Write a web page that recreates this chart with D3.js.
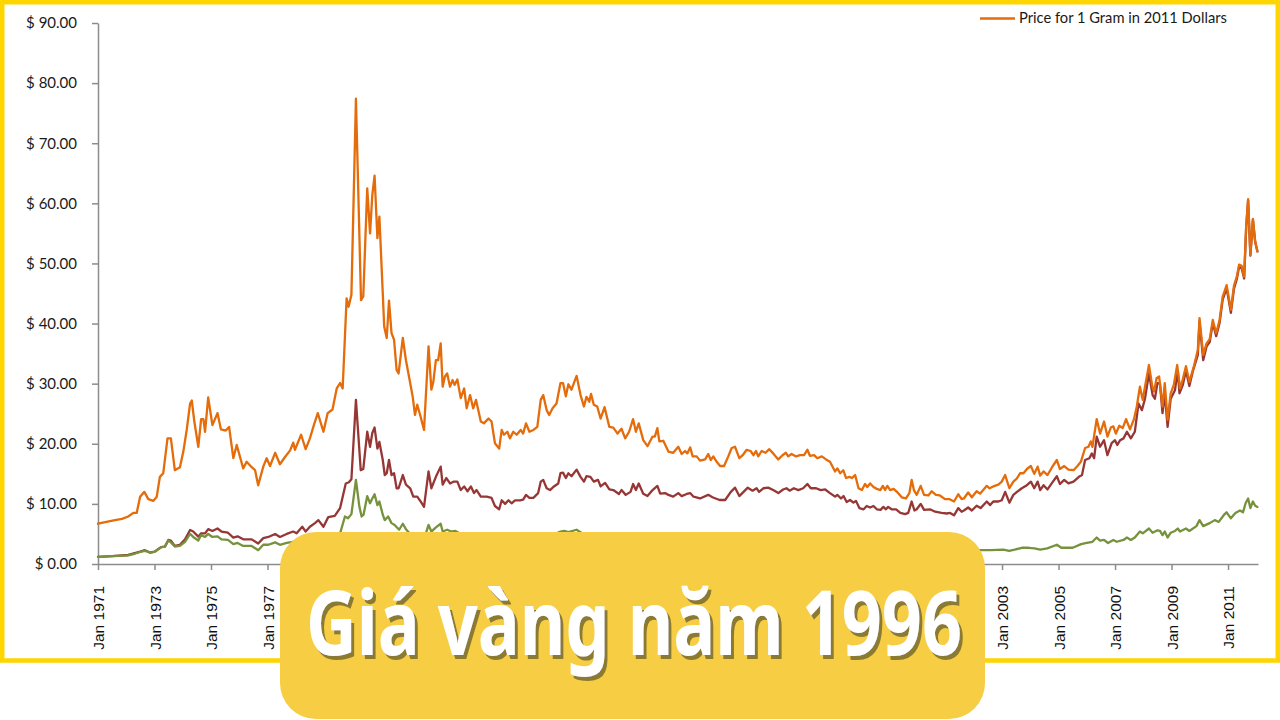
<!DOCTYPE html>
<html>
<head>
<meta charset="utf-8">
<script src="https://cdn.jsdelivr.net/npm/d3@7"></script>
<style>
  html, body { margin: 0; padding: 0; background: #fff; }
  svg { display: block; }
</style>
</head>
<body>
<svg id="chart" width="1280" height="720"></svg>
<script>
// ---- DATA (decimal year, value in $ per gram) ----
const seriesNames = ["Price for 1 Gram in 2011 Dollars", "Nominal price", "Price in 1971 Dollars"];
const xTickYears = [1971,1973,1975,1977,1979,1981,1983,1985,1987,1989,1991,1993,1995,1997,1999,2001,2003,2005,2007,2009,2011];
const yTickValues = [0,10,20,30,40,50,60,70,80,90];
const titleText = "Giá vàng năm 1996";

const realPrice2011 = [[1971.00,6.7],[1971.30,7.0],[1971.60,7.3],[1971.85,7.5],[1972.07,7.9],[1972.25,8.5],[1972.37,8.5],[1972.49,11.2],[1972.64,12.0],[1972.78,10.8],[1972.96,10.5],[1973.08,11.2],[1973.19,14.5],[1973.31,15.1],[1973.46,20.9],[1973.58,20.9],[1973.72,15.6],[1973.90,16.1],[1974.02,18.7],[1974.14,22.3],[1974.26,26.7],[1974.32,27.2],[1974.41,23.7],[1974.55,19.5],[1974.65,24.1],[1974.73,24.1],[1974.79,22.0],[1974.90,27.7],[1975.05,23.1],[1975.23,25.1],[1975.35,22.4],[1975.52,22.2],[1975.64,22.8],[1975.79,17.6],[1975.91,19.8],[1976.14,15.9],[1976.26,17.0],[1976.44,16.1],[1976.56,15.6],[1976.67,13.1],[1976.85,16.2],[1976.97,17.6],[1977.09,16.3],[1977.27,18.5],[1977.44,16.6],[1977.62,17.8],[1977.80,18.9],[1977.91,20.2],[1977.97,19.0],[1978.19,21.5],[1978.35,19.1],[1978.50,20.9],[1978.66,23.4],[1978.78,25.1],[1978.98,22.0],[1979.13,25.1],[1979.30,25.7],[1979.45,29.2],[1979.57,30.1],[1979.66,29.2],[1979.80,44.2],[1979.87,42.8],[1979.97,44.8],[1980.13,77.4],[1980.31,43.9],[1980.39,44.5],[1980.53,62.5],[1980.63,55.0],[1980.71,61.4],[1980.79,64.6],[1980.89,54.2],[1980.96,57.8],[1981.08,45.0],[1981.13,39.5],[1981.22,37.6],[1981.30,43.8],[1981.39,38.4],[1981.48,37.3],[1981.57,32.3],[1981.64,31.7],[1981.79,37.6],[1981.90,33.9],[1982.05,30.1],[1982.14,27.8],[1982.22,24.8],[1982.30,26.5],[1982.42,24.5],[1982.54,22.3],[1982.70,36.2],[1982.80,29.0],[1982.87,30.3],[1982.96,33.9],[1983.04,33.9],[1983.13,36.7],[1983.20,29.5],[1983.28,31.2],[1983.36,31.7],[1983.46,29.5],[1983.55,30.6],[1983.62,29.8],[1983.72,30.7],[1983.84,27.6],[1983.96,29.2],[1984.05,25.9],[1984.17,28.1],[1984.28,25.9],[1984.38,27.3],[1984.46,25.6],[1984.55,23.7],[1984.66,23.4],[1984.82,24.2],[1984.93,23.7],[1985.05,20.1],[1985.20,19.2],[1985.29,22.3],[1985.37,21.5],[1985.49,22.0],[1985.58,20.9],[1985.70,22.0],[1985.82,21.5],[1985.96,22.3],[1986.05,21.7],[1986.15,23.4],[1986.27,22.0],[1986.41,22.3],[1986.55,22.8],[1986.67,27.3],[1986.76,28.1],[1986.88,25.6],[1986.97,24.8],[1987.09,25.9],[1987.23,26.7],[1987.37,30.1],[1987.46,30.1],[1987.56,27.9],[1987.65,29.9],[1987.76,29.0],[1987.94,31.3],[1988.08,28.1],[1988.20,26.2],[1988.29,27.8],[1988.39,27.0],[1988.45,28.3],[1988.55,26.5],[1988.67,26.2],[1988.79,24.2],[1988.93,26.1],[1989.10,22.8],[1989.24,22.7],[1989.39,21.7],[1989.53,22.5],[1989.66,20.9],[1989.80,22.0],[1989.94,24.1],[1990.04,22.0],[1990.14,23.4],[1990.30,20.6],[1990.45,19.6],[1990.63,21.2],[1990.71,21.2],[1990.80,22.6],[1990.87,20.4],[1991.01,20.5],[1991.19,18.7],[1991.36,18.5],[1991.54,19.5],[1991.66,18.3],[1991.78,18.8],[1991.86,18.4],[1991.96,19.4],[1992.05,17.9],[1992.19,17.9],[1992.31,17.2],[1992.49,17.4],[1992.60,18.3],[1992.69,17.3],[1992.78,17.9],[1992.90,17.0],[1993.02,16.3],[1993.16,16.3],[1993.31,17.9],[1993.43,19.3],[1993.55,19.5],[1993.70,17.6],[1993.82,18.1],[1993.96,19.0],[1994.10,18.8],[1994.20,18.1],[1994.29,18.8],[1994.37,17.9],[1994.49,18.8],[1994.63,18.5],[1994.76,19.1],[1994.90,18.4],[1995.08,17.4],[1995.23,18.1],[1995.35,18.5],[1995.43,17.9],[1995.55,18.3],[1995.71,17.9],[1995.85,18.1],[1995.99,18.1],[1996.11,19.0],[1996.20,18.0],[1996.35,18.1],[1996.46,17.6],[1996.62,17.9],[1996.77,17.4],[1996.91,17.0],[1997.09,15.4],[1997.17,15.9],[1997.27,15.1],[1997.38,15.6],[1997.48,14.3],[1997.60,14.5],[1997.68,14.3],[1997.80,14.8],[1997.92,12.6],[1998.04,12.3],[1998.15,13.3],[1998.23,12.8],[1998.33,13.4],[1998.45,12.8],[1998.57,12.5],[1998.69,12.3],[1998.78,13.0],[1998.86,12.3],[1998.94,13.0],[1999.04,12.3],[1999.16,12.5],[1999.30,11.9],[1999.45,11.1],[1999.60,10.9],[1999.72,11.8],[1999.80,14.0],[1999.88,12.3],[1999.98,11.5],[2000.12,13.0],[2000.24,11.5],[2000.39,11.4],[2000.51,12.1],[2000.66,11.5],[2000.80,11.4],[2000.98,10.8],[2001.13,10.8],[2001.30,10.4],[2001.45,11.6],[2001.57,10.8],[2001.65,10.9],[2001.80,11.9],[2001.93,11.1],[2002.10,12.1],[2002.22,11.7],[2002.46,13.0],[2002.56,12.6],[2002.69,12.9],[2002.87,13.2],[2002.99,13.7],[2003.11,14.8],[2003.26,12.6],[2003.40,13.7],[2003.52,14.2],[2003.64,15.1],[2003.76,15.1],[2003.88,15.8],[2004.02,16.3],[2004.14,15.0],[2004.26,16.2],[2004.35,14.7],[2004.47,15.4],[2004.61,14.8],[2004.77,16.1],[2004.94,17.3],[2005.05,15.8],[2005.20,16.3],[2005.35,15.7],[2005.53,15.6],[2005.67,16.3],[2005.79,17.0],[2005.94,19.3],[2006.06,19.5],[2006.14,20.4],[2006.20,19.5],[2006.35,24.1],[2006.47,21.7],[2006.61,23.7],[2006.73,21.2],[2006.85,22.7],[2006.94,22.9],[2007.03,21.7],[2007.15,23.0],[2007.27,22.6],[2007.39,24.1],[2007.53,22.4],[2007.67,24.1],[2007.77,26.2],[2007.88,29.5],[2007.98,27.3],[2008.06,29.5],[2008.20,33.1],[2008.32,29.5],[2008.38,28.7],[2008.47,30.9],[2008.56,31.2],[2008.68,26.2],[2008.76,30.1],[2008.86,24.0],[2008.97,28.4],[2009.08,29.8],[2009.20,33.1],[2009.30,29.2],[2009.39,30.6],[2009.51,32.9],[2009.63,30.3],[2009.78,32.7],[2009.93,35.6],[2009.99,40.9],[2010.12,34.8],[2010.24,36.7],[2010.35,37.4],[2010.46,40.6],[2010.58,38.4],[2010.70,40.6],[2010.81,44.5],[2010.95,46.4],[2011.10,42.3],[2011.21,46.3],[2011.31,47.8],[2011.39,49.8],[2011.48,49.6],[2011.57,47.8],[2011.64,56.1],[2011.71,60.7],[2011.79,51.4],[2011.88,57.4],[2011.96,53.6],[2012.04,52.0]];

const nominalPrice = [[1971.00,1.2],[1971.50,1.3],[1972.07,1.5],[1972.30,1.8],[1972.49,2.05],[1972.66,2.3],[1972.84,1.9],[1973.00,2.05],[1973.23,2.8],[1973.37,2.9],[1973.49,4.0],[1973.58,3.9],[1973.72,3.0],[1973.90,3.2],[1974.08,4.1],[1974.26,5.65],[1974.37,5.4],[1974.55,4.55],[1974.65,5.1],[1974.79,5.1],[1974.90,5.8],[1975.05,5.5],[1975.23,5.9],[1975.37,5.4],[1975.60,5.2],[1975.79,4.4],[1975.94,4.6],[1976.14,4.1],[1976.44,4.1],[1976.67,3.4],[1976.85,4.3],[1977.03,4.5],[1977.27,5.0],[1977.44,4.5],[1977.68,5.0],[1977.91,5.4],[1978.03,5.1],[1978.23,6.2],[1978.35,5.4],[1978.50,6.2],[1978.68,6.8],[1978.80,7.3],[1978.98,6.2],[1979.15,7.8],[1979.38,8.0],[1979.57,9.3],[1979.77,13.4],[1979.88,13.6],[1979.97,14.1],[1980.13,27.3],[1980.30,15.6],[1980.39,15.8],[1980.53,22.0],[1980.63,19.5],[1980.71,21.8],[1980.79,22.7],[1980.89,19.2],[1980.96,20.3],[1981.08,17.3],[1981.15,14.8],[1981.22,15.1],[1981.30,17.3],[1981.39,14.8],[1981.48,15.1],[1981.57,12.6],[1981.64,12.6],[1981.79,14.8],[1981.90,13.2],[1982.05,12.6],[1982.16,11.2],[1982.30,11.2],[1982.42,10.4],[1982.54,9.5],[1982.70,15.4],[1982.80,12.6],[1982.96,14.5],[1983.13,16.2],[1983.20,13.2],[1983.33,14.3],[1983.46,13.4],[1983.58,13.7],[1983.72,13.7],[1983.84,12.3],[1983.96,12.9],[1984.08,12.1],[1984.20,12.9],[1984.31,11.8],[1984.40,12.3],[1984.55,11.2],[1984.76,11.2],[1984.93,11.0],[1985.05,9.65],[1985.20,9.1],[1985.29,10.6],[1985.41,10.0],[1985.53,10.6],[1985.64,10.1],[1985.76,10.6],[1985.94,10.6],[1986.05,10.7],[1986.15,11.5],[1986.27,11.0],[1986.41,11.0],[1986.58,11.8],[1986.67,13.7],[1986.76,14.0],[1986.88,12.6],[1987.00,12.3],[1987.14,12.9],[1987.29,13.4],[1987.37,15.1],[1987.46,15.2],[1987.56,14.3],[1987.65,15.1],[1987.76,14.6],[1987.94,15.7],[1988.08,14.5],[1988.20,13.7],[1988.29,14.6],[1988.43,14.5],[1988.55,13.7],[1988.70,14.0],[1988.79,12.9],[1988.95,13.5],[1989.10,12.4],[1989.24,12.3],[1989.44,11.65],[1989.53,12.3],[1989.68,11.5],[1989.85,12.0],[1989.94,13.3],[1990.04,12.3],[1990.14,13.4],[1990.30,11.7],[1990.45,11.3],[1990.63,12.3],[1990.80,13.0],[1990.90,11.7],[1991.07,11.8],[1991.19,11.5],[1991.36,11.2],[1991.54,11.8],[1991.66,11.3],[1991.84,11.65],[1991.96,11.8],[1992.08,11.2],[1992.31,10.9],[1992.60,11.5],[1992.75,11.1],[1993.00,10.65],[1993.20,10.65],[1993.40,12.0],[1993.55,12.7],[1993.70,11.3],[1993.85,12.0],[1994.00,12.7],[1994.17,12.2],[1994.31,12.6],[1994.40,12.0],[1994.55,12.6],[1994.72,12.7],[1994.90,12.3],[1995.08,11.8],[1995.25,12.4],[1995.37,12.6],[1995.48,12.2],[1995.63,12.6],[1995.79,12.3],[1995.96,12.6],[1996.11,13.3],[1996.23,12.6],[1996.42,12.6],[1996.58,12.3],[1996.74,12.4],[1996.91,11.8],[1997.09,11.2],[1997.17,11.5],[1997.30,10.9],[1997.39,11.3],[1997.50,10.3],[1997.62,10.65],[1997.74,10.2],[1997.83,10.5],[1997.95,9.3],[1998.10,9.1],[1998.21,9.65],[1998.33,9.4],[1998.45,9.65],[1998.57,9.1],[1998.70,9.0],[1998.80,9.5],[1998.89,9.1],[1998.97,9.5],[1999.09,9.1],[1999.25,9.1],[1999.40,8.5],[1999.57,8.3],[1999.68,8.5],[1999.80,10.4],[1999.90,8.9],[1999.98,9.1],[2000.12,10.0],[2000.24,9.0],[2000.45,9.1],[2000.63,8.7],[2000.86,8.5],[2001.04,8.4],[2001.16,8.5],[2001.30,8.1],[2001.45,9.3],[2001.57,8.7],[2001.65,8.9],[2001.80,9.4],[2001.93,8.9],[2002.10,9.7],[2002.24,9.3],[2002.46,10.4],[2002.58,9.8],[2002.69,10.4],[2002.87,10.4],[2002.99,10.6],[2003.11,12.0],[2003.26,10.2],[2003.40,11.5],[2003.53,12.0],[2003.70,12.6],[2003.85,13.0],[2004.02,13.7],[2004.14,12.6],[2004.26,13.7],[2004.35,12.3],[2004.47,13.1],[2004.61,12.4],[2004.77,13.5],[2004.94,14.6],[2005.05,13.3],[2005.20,14.0],[2005.35,13.4],[2005.53,13.7],[2005.72,14.5],[2005.83,14.8],[2005.94,17.3],[2006.09,17.6],[2006.18,18.4],[2006.26,17.6],[2006.35,21.2],[2006.47,19.5],[2006.61,20.6],[2006.73,18.1],[2006.88,20.1],[2007.00,20.6],[2007.08,19.8],[2007.18,20.6],[2007.30,20.9],[2007.42,22.0],[2007.56,20.9],[2007.70,22.0],[2007.83,26.7],[2007.95,25.6],[2008.06,27.5],[2008.20,31.7],[2008.33,28.1],[2008.41,27.5],[2008.50,30.1],[2008.59,30.0],[2008.68,25.1],[2008.76,28.4],[2008.86,22.8],[2008.97,27.5],[2009.12,28.9],[2009.22,32.2],[2009.28,28.4],[2009.40,29.8],[2009.51,32.2],[2009.63,29.6],[2009.75,32.0],[2009.93,34.8],[2009.99,40.3],[2010.12,33.9],[2010.24,36.2],[2010.35,36.9],[2010.46,40.1],[2010.58,37.9],[2010.70,40.1],[2010.81,44.0],[2010.95,45.9],[2011.10,41.8],[2011.21,45.8],[2011.31,47.4],[2011.39,49.4],[2011.48,49.2],[2011.57,47.5],[2011.64,55.8],[2011.71,60.5],[2011.79,51.3],[2011.88,57.3],[2011.96,53.6],[2012.04,52.0]];

const realPrice1971 = [[1971.00,1.2],[1971.50,1.3],[1972.07,1.45],[1972.30,1.7],[1972.49,2.0],[1972.66,2.2],[1972.84,1.9],[1973.00,2.0],[1973.25,2.8],[1973.37,2.9],[1973.49,3.9],[1973.58,3.6],[1973.72,2.9],[1973.90,3.0],[1974.08,3.7],[1974.26,5.0],[1974.37,4.5],[1974.55,3.9],[1974.65,4.8],[1974.79,4.5],[1974.90,5.0],[1975.05,4.5],[1975.23,4.6],[1975.37,4.1],[1975.60,4.0],[1975.79,3.3],[1975.94,3.5],[1976.14,3.0],[1976.44,3.0],[1976.67,2.3],[1976.85,3.2],[1977.03,3.2],[1977.27,3.6],[1977.44,3.2],[1977.68,3.5],[1977.91,3.7],[1978.20,3.9],[1978.50,3.8],[1978.78,4.6],[1978.98,4.0],[1979.15,4.6],[1979.38,4.8],[1979.57,5.1],[1979.74,7.9],[1979.85,7.6],[1979.97,8.3],[1980.13,14.0],[1980.25,9.6],[1980.33,7.9],[1980.40,8.2],[1980.53,11.3],[1980.63,10.1],[1980.71,10.9],[1980.79,11.6],[1980.89,9.8],[1980.96,10.4],[1981.08,8.2],[1981.15,7.3],[1981.27,7.9],[1981.39,6.8],[1981.50,6.5],[1981.66,5.7],[1981.79,6.7],[1981.90,5.8],[1982.05,5.0],[1982.25,4.7],[1982.54,4.1],[1982.70,6.5],[1982.80,5.4],[1982.96,6.1],[1983.13,6.7],[1983.20,5.4],[1983.36,5.7],[1983.50,5.4],[1983.65,5.5],[1983.84,5.0],[1984.10,4.9],[1984.40,4.8],[1984.70,4.3],[1985.05,3.7],[1985.30,4.0],[1985.60,3.9],[1986.00,4.0],[1986.30,4.0],[1986.70,5.0],[1987.00,4.6],[1987.37,5.4],[1987.50,5.5],[1987.65,5.3],[1987.94,5.7],[1988.20,4.9],[1988.50,4.9],[1988.80,4.5],[1989.20,4.2],[1989.60,3.9],[1990.00,4.2],[1990.50,3.6],[1990.80,4.0],[1991.20,3.4],[1991.60,3.5],[1992.00,3.4],[1992.50,3.2],[1993.00,3.0],[1993.50,3.5],[1994.00,3.4],[1994.50,3.4],[1995.00,3.2],[1995.50,3.3],[1996.10,3.4],[1996.50,3.2],[1997.00,3.0],[1997.50,2.6],[1998.00,2.3],[1998.50,2.3],[1999.00,2.3],[1999.50,2.0],[1999.80,2.6],[2000.20,2.1],[2000.70,2.1],[2001.30,1.9],[2001.70,2.1],[2002.20,2.3],[2002.60,2.3],[2003.05,2.4],[2003.25,2.2],[2003.45,2.4],[2003.70,2.7],[2003.95,2.7],[2004.15,2.6],[2004.35,2.4],[2004.60,2.6],[2004.94,3.2],[2005.10,2.7],[2005.50,2.7],[2005.80,3.3],[2006.00,3.5],[2006.20,3.7],[2006.35,4.4],[2006.47,3.9],[2006.61,4.0],[2006.75,3.5],[2006.94,4.0],[2007.06,3.7],[2007.30,4.0],[2007.42,4.4],[2007.56,4.0],[2007.70,4.4],[2007.88,5.4],[2007.98,5.1],[2008.20,5.9],[2008.33,5.2],[2008.50,5.6],[2008.59,5.5],[2008.68,4.8],[2008.76,5.4],[2008.86,4.4],[2008.97,5.2],[2009.12,5.5],[2009.22,5.9],[2009.30,5.4],[2009.51,5.9],[2009.63,5.5],[2009.88,6.3],[2009.99,7.3],[2010.12,6.3],[2010.35,6.8],[2010.53,7.3],[2010.67,7.0],[2010.86,8.2],[2010.95,8.6],[2011.10,7.6],[2011.26,8.5],[2011.42,8.9],[2011.53,8.6],[2011.62,10.1],[2011.71,10.9],[2011.79,9.3],[2011.88,10.4],[2011.96,9.7],[2012.04,9.5]];

// ---- DRAWING ----
const svg = d3.select("#chart");
const defs = svg.append("defs");
const shadow = defs.append("filter").attr("id", "titleShadow")
  .attr("x", "-5%").attr("y", "-20%").attr("width", "115%").attr("height", "150%");
shadow.append("feFlood").attr("flood-color", "#8b7a33").attr("result", "col");
shadow.append("feComposite").attr("in", "col").attr("in2", "SourceAlpha").attr("operator", "in").attr("result", "sh");
shadow.append("feOffset").attr("in", "sh").attr("dx", 3).attr("dy", 4).attr("result", "off");
const merge = shadow.append("feMerge");
merge.append("feMergeNode").attr("in", "off");
merge.append("feMergeNode").attr("in", "SourceGraphic");

svg.append("rect").attr("width", 1280).attr("height", 720).attr("fill", "#ffffff");

const x = d3.scaleLinear().domain([1971, 2012.06]).range([98, 1258]);
const y = d3.scaleLinear().domain([0, 90]).range([564, 23]);
const axisColor = "#8c8c8c";

// Y axis
const yAxis = svg.append("g").attr("transform", "translate(98,0)")
  .call(d3.axisLeft(y).tickValues(yTickValues).tickSize(6).tickSizeOuter(0).tickPadding(15)
    .tickFormat(d => "$ " + d.toFixed(2)));
yAxis.select(".domain").attr("stroke", axisColor).attr("stroke-width", 1.5);
yAxis.selectAll(".tick line").attr("stroke", axisColor).attr("stroke-width", 1.5);
yAxis.selectAll(".tick text").attr("fill", "#1a1a1a")
  .style("font-family", "Lato, 'Open Sans', sans-serif").style("font-size", "15px");

// X axis
const xAxis = svg.append("g").attr("transform", "translate(0,564)")
  .call(d3.axisBottom(x).tickValues(xTickYears).tickSize(6).tickSizeOuter(0)
    .tickFormat(d => "Jan " + d));
xAxis.select(".domain").attr("stroke", axisColor).attr("stroke-width", 1.5);
xAxis.selectAll(".tick line").attr("stroke", axisColor).attr("stroke-width", 1.5);
xAxis.selectAll(".tick text")
  .attr("fill", "#111")
  .style("font-family", "'Liberation Sans', Arial, sans-serif").style("font-size", "15.5px")
  .attr("text-anchor", "end")
  .attr("transform", "rotate(-90)")
  .attr("x", -22).attr("y", 0).attr("dy", "0.36em");

// Lines
const line = d3.line().x(d => x(d[0])).y(d => y(d[1]));
const series = [
  { data: nominalPrice, color: "#963735" },
  { data: realPrice1971, color: "#76923c" },
  { data: realPrice2011, color: "#e46c0a" }
];
svg.append("g").selectAll("path").data(series).join("path")
  .attr("d", s => line(s.data))
  .attr("fill", "none")
  .attr("stroke", s => s.color)
  .attr("stroke-width", 2.3)
  .attr("stroke-linejoin", "round")
  .attr("stroke-linecap", "round");

// Legend
const lg = svg.append("g");
lg.append("line").attr("x1", 980).attr("x2", 1015).attr("y1", 18.5).attr("y2", 18.5)
  .attr("stroke", "#e46c0a").attr("stroke-width", 2.3);
lg.append("text").attr("x", 1019).attr("y", 23).text(seriesNames[0])
  .attr("fill", "#1a1a1a").style("font-family", "Lato, 'Open Sans', sans-serif").style("font-size", "14.7px");

// Yellow frame
svg.append("rect").attr("x", 2.25).attr("y", 2.25).attr("width", 1275.5).attr("height", 658.25)
  .attr("fill", "none").attr("stroke", "#ffd500").attr("stroke-width", 4.5);

// Title box
svg.append("rect").attr("x", 280).attr("y", 532).attr("width", 705).attr("height", 187)
  .attr("rx", 36).attr("ry", 36).attr("fill", "#f6cd43");
svg.append("text").attr("x", 306).attr("y", 655).text(titleText)
  .style("font-family", "'Noto Sans', 'Open Sans', sans-serif")
  .style("font-weight", "700").style("font-size", "90px")
  .attr("fill", "#ffffff").attr("textLength", 656).attr("lengthAdjust", "spacingAndGlyphs")
  .attr("filter", "url(#titleShadow)");
</script>
</body>
</html>
